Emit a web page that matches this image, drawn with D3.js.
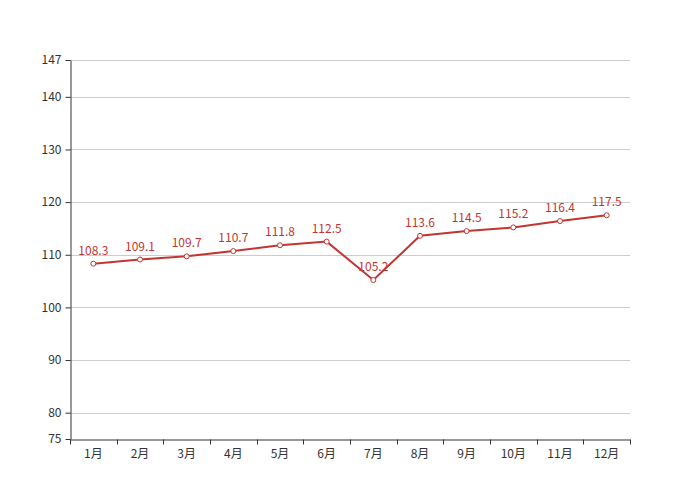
<!DOCTYPE html>
<html>
<head>
<meta charset="utf-8">
<script src="https://cdn.jsdelivr.net/npm/d3@7"></script>
<style>
    body { margin: 0; background: #fff; }
    text { font-family: "Noto Sans CJK SC", "Noto Sans", sans-serif; }
</style>
</head>
<body>
<div id="chart"></div>
<script>
"use strict"

// chart data
const months = ["1月", "2月", "3月", "4月", "5月", "6月", "7月", "8月", "9月", "10月", "11月", "12月"]
const values = [108.3, 109.1, 109.7, 110.7, 111.8, 112.5, 105.2, 113.6, 114.5, 115.2, 116.4, 117.5]
const yTicks = [75, 80, 90, 100, 110, 120, 130, 140, 147]
const yDomain = [75, 147]

const w = 700, h = 500
const frame = { l: 70, r: 630, t: 60, b: 439 }
const red = "#c23531"

const svg = d3.select("#chart")
    .append("svg")
        .attr("width", w)
        .attr("height", h)

const x = d3.scaleBand()
    .domain(months)
    .range([frame.l, frame.r])
const y = d3.scaleLinear()
    .domain(yDomain)
    .range([frame.b, frame.t])

// grid lines
svg.append("g")
    .selectAll("line")
    .data(yTicks.slice(1))
    .enter().append("line")
        .attr("x1", frame.l)
        .attr("x2", frame.r)
        .attr("y1", d => Math.round(y(d)) + 0.5)
        .attr("y2", d => Math.round(y(d)) + 0.5)
        .attr("stroke", "#ccc")
        .attr("stroke-width", 1)

// y axis
const yAxis = svg.append("g")
    .attr("transform", `translate(${ frame.l + 0.5 }, 0)`)
    .call(d3.axisLeft(y).tickValues(yTicks).tickSize(5).tickPadding(4).tickSizeOuter(0))
yAxis.select(".domain").attr("stroke", "#333")
yAxis.selectAll(".tick line").attr("stroke", "#333")
yAxis.selectAll(".tick text").attr("fill", "#333").style("font-size", "12px")

// x axis, ticks at band boundaries
const xAxis = svg.append("g")
    .attr("transform", `translate(0, ${ frame.b + 0.5 })`)
    .call(d3.axisBottom(x).tickSize(0).tickPadding(10))
xAxis.select(".domain").attr("stroke", "#333")
xAxis.selectAll(".tick text").attr("fill", "#333").style("font-size", "12px")
xAxis.selectAll(".bound")
    .data(months.map(m => x(m)).concat([frame.r]))
    .enter().append("line")
        .attr("class", "bound")
        .attr("x1", d => Math.round(d) + 0.5)
        .attr("x2", d => Math.round(d) + 0.5)
        .attr("y1", 0)
        .attr("y2", 5)
        .attr("stroke", "#333")

const cx = d => x(d.m) + x.bandwidth() / 2
const pts = months.map((m, i) => ({ m: m, v: values[i] }))

// line
svg.append("path")
    .datum(pts)
    .attr("fill", "none")
    .attr("stroke", red)
    .attr("stroke-width", 2)
    .attr("d", d3.line().x(cx).y(d => y(d.v)))

// points
svg.selectAll(".pt")
    .data(pts)
    .enter().append("circle")
        .attr("class", "pt")
        .attr("cx", cx)
        .attr("cy", d => y(d.v))
        .attr("r", 2.5)
        .attr("fill", "#fff")
        .attr("stroke", red)
        .attr("stroke-width", 1)

// value labels
svg.selectAll(".lbl")
    .data(pts)
    .enter().append("text")
        .attr("class", "lbl")
        .attr("x", cx)
        .attr("y", d => y(d.v) - 9)
        .attr("text-anchor", "middle")
        .attr("fill", red)
        .style("font-size", "12px")
        .text(d => d.v.toFixed(1))
</script>
</body>
</html>
